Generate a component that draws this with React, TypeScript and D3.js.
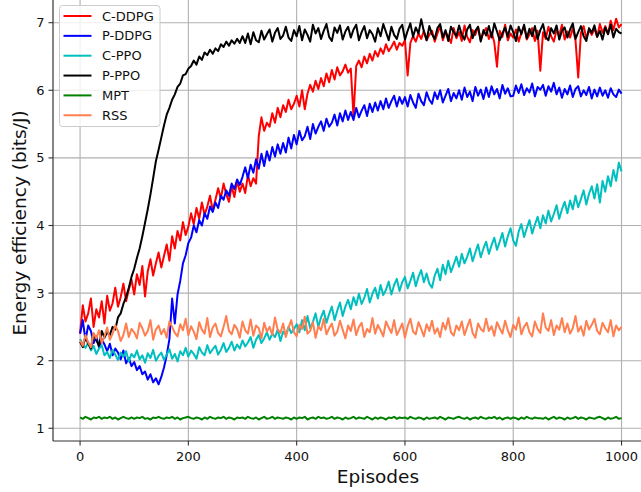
import React from "react";
import * as d3 from "d3";

// Episodes are logged every EPISODE_STEP episodes, from 0 to 1000.
const EPISODE_STEP = 5;

const xTicks = [0, 200, 400, 600, 800, 1000];
const yTicks = [1, 2, 3, 4, 5, 6, 7];

const seriesNames = ["C-DDPG", "P-DDPG", "C-PPO", "P-PPO", "MPT", "RSS"];
const seriesColors = ["#ff0000", "#0000ff", "#00bfbf", "#000000", "#008000", "#ff7f50"];

// Energy efficiency (bits/J) per logged episode
const cDdpg = [
  2.40, 2.82, 2.58, 2.70, 2.92, 2.50, 2.76, 2.64, 2.88, 2.55,
  2.96, 2.74, 2.85, 3.08, 2.80, 2.94, 3.14, 2.88, 3.05, 3.20,
  2.98, 3.28, 3.12, 3.40, 2.95, 3.32, 3.50, 3.26, 3.44, 3.60,
  3.38, 3.55, 3.72, 3.48, 3.84, 3.66, 3.92, 3.78, 4.05, 3.86,
  3.98, 4.18, 4.02, 4.26, 4.10, 4.34, 4.16, 4.28, 4.44, 4.22,
  4.38, 4.55, 4.40, 4.62, 4.46, 4.35, 4.58, 4.42, 4.66, 4.50,
  4.62, 4.48, 4.75, 4.58, 4.70, 4.62, 5.32, 5.60, 5.40, 5.52,
  5.46, 5.66, 5.52, 5.74, 5.60, 5.78, 5.68, 5.86, 5.72, 5.80,
  5.92, 5.76, 6.00, 5.72, 5.95, 6.08, 5.98, 6.14, 6.02, 6.18,
  6.06, 6.25, 6.12, 6.30, 6.16, 6.34, 6.22, 6.28, 6.38, 6.26,
  6.32, 5.62, 6.36, 6.44, 6.34, 6.50, 6.40, 6.54, 6.44, 6.58,
  6.50, 6.62, 6.54, 6.68, 6.58, 6.64, 6.72, 6.60, 6.70, 6.66,
  6.74, 6.22, 6.70, 6.80, 6.72, 6.84, 6.76, 6.88, 6.74, 6.82,
  6.88, 6.72, 6.84, 6.95, 6.74, 6.86, 6.80, 6.70, 6.92, 6.77,
  6.86, 6.73, 6.96, 6.79, 6.71, 6.89, 6.82, 6.94, 6.74, 6.85,
  6.92, 6.76, 6.86, 6.71, 6.35, 6.88, 6.79, 6.97, 6.74, 6.84,
  6.78, 6.90, 6.72, 6.85, 6.95, 6.75, 6.83, 6.92, 6.73, 6.88,
  6.29, 6.86, 6.76, 6.94, 6.80, 6.72, 6.89, 6.81, 6.97, 6.75,
  6.87, 6.78, 6.92, 6.74, 6.19, 6.85, 6.95, 6.77, 6.89, 6.82,
  6.91, 6.79, 6.98, 6.85, 6.95, 6.83, 7.03, 6.89, 7.06, 6.93,
  6.98,
];

const pDdpg = [
  2.40, 2.60, 2.30, 2.52, 2.44, 2.26, 2.36, 2.20, 2.32, 2.24,
  2.14, 2.25, 2.08, 2.18, 2.12, 2.02, 2.15, 1.96, 2.04, 1.92,
  1.98, 1.86, 1.92, 1.80, 1.84, 1.72, 1.80, 1.68, 1.74, 1.65,
  1.76, 1.90, 2.08, 2.32, 2.92, 2.55, 2.98, 3.18, 3.44, 3.56,
  3.74, 3.82, 4.00, 3.90, 4.08, 4.00, 4.18, 4.10, 4.28, 4.20,
  4.34, 4.26, 4.44, 4.38, 4.52, 4.44, 4.62, 4.54, 4.68, 4.60,
  4.72, 4.86, 4.70, 4.90, 4.78, 4.98, 4.84, 5.06, 4.88, 5.10,
  4.96, 5.16, 5.02, 5.20, 5.06, 5.22, 5.08, 5.30, 5.14, 5.34,
  5.20, 5.40, 5.26, 5.32, 5.46, 5.28, 5.50, 5.36, 5.46, 5.54,
  5.40, 5.58, 5.46, 5.52, 5.64, 5.48, 5.66, 5.54, 5.70, 5.56,
  5.68, 5.56, 5.74, 5.60, 5.70, 5.78, 5.62, 5.80, 5.68, 5.82,
  5.70, 5.84, 5.72, 5.88, 5.74, 5.84, 5.92, 5.76, 5.90, 5.80,
  5.90, 5.76, 5.93, 5.82, 5.74, 5.95, 5.84, 5.78, 5.97, 5.86,
  5.80, 5.97, 5.87, 6.00, 5.82, 5.92, 6.02, 5.84, 5.96, 5.88,
  6.00, 5.86, 6.04, 5.90, 5.98, 5.84, 6.05, 5.92, 6.01, 5.87,
  6.04, 5.90, 6.06, 5.94, 6.02, 5.88, 6.08, 5.95, 6.03, 5.91,
  5.92, 6.07, 5.96, 6.09, 5.93, 6.03, 5.97, 6.10, 5.91, 6.05,
  6.01, 6.08, 5.92, 6.06, 5.98, 6.11, 5.94, 6.04, 5.89, 6.02,
  5.94, 6.07, 5.90, 6.02, 6.06, 5.91, 6.00, 5.93, 6.05, 5.88,
  6.01, 5.91, 6.04, 5.92, 6.00, 5.89, 6.03, 5.94, 5.90, 6.01,
  5.95,
];

const cPpo = [
  2.32, 2.24, 2.19, 2.27, 2.15, 2.22, 2.10, 2.18, 2.23, 2.08,
  2.13, 2.04, 2.16, 2.09, 2.01, 2.12, 2.06, 2.14, 1.99, 2.10,
  2.05, 2.15, 2.02, 2.08, 1.97, 2.11, 2.04, 2.16, 2.00, 2.07,
  2.12, 2.01, 2.09, 2.17, 2.03, 2.10, 1.99, 2.14, 2.08, 2.19,
  2.06, 2.15, 2.10, 2.03, 2.20, 2.12, 2.08, 2.23, 2.11, 2.17,
  2.22, 2.09, 2.16, 2.26, 2.13, 2.19, 2.28, 2.15, 2.24, 2.18,
  2.30, 2.21, 2.27, 2.35, 2.19, 2.31, 2.38, 2.26, 2.33, 2.42,
  2.31, 2.40, 2.35, 2.46, 2.29, 2.43, 2.38, 2.50, 2.41, 2.47,
  2.54, 2.42, 2.60, 2.45, 2.66, 2.48, 2.57, 2.70, 2.50, 2.64,
  2.74, 2.56, 2.69, 2.80, 2.60, 2.74, 2.86, 2.66, 2.80, 2.90,
  2.76, 2.94, 2.82, 2.99, 2.84, 2.93, 3.06, 2.86, 2.99, 3.08,
  2.92, 3.12, 2.97, 3.05, 3.17, 2.98, 3.12, 3.21, 3.03, 3.16,
  3.24, 3.07, 3.18, 3.30, 3.10, 3.24, 3.34, 3.16, 3.29, 3.14,
  3.08, 3.26, 3.36, 3.19, 3.42, 3.28, 3.48, 3.31, 3.42, 3.54,
  3.39, 3.58, 3.44, 3.54, 3.66, 3.47, 3.60, 3.72, 3.53, 3.66,
  3.76, 3.58, 3.71, 3.82, 3.64, 3.76, 3.89, 3.69, 3.84, 3.96,
  3.78, 3.70, 3.91, 4.02, 3.83, 3.96, 4.08, 3.88, 4.01, 4.13,
  3.96, 4.15, 4.03, 4.22, 4.06, 4.17, 4.30, 4.10, 4.24, 4.35,
  4.18, 4.37, 4.24, 4.44, 4.27, 4.39, 4.52, 4.31, 4.47, 4.58,
  4.40, 4.61, 4.34, 4.66, 4.50, 4.73, 4.58, 4.82, 4.66, 4.93,
  4.80,
];

const pPpo = [
  2.28, 2.20, 2.36, 2.25, 2.18, 2.40, 2.30, 2.22, 2.44, 2.34,
  2.42, 2.38, 2.50, 2.46, 2.64, 2.70, 2.84, 2.94, 3.08, 3.24,
  3.36, 3.52, 3.66, 3.84, 4.04, 4.24, 4.46, 4.70, 4.95, 5.12,
  5.30, 5.48, 5.64, 5.74, 5.86, 5.94, 6.05, 6.10, 6.22, 6.24,
  6.32, 6.36, 6.44, 6.38, 6.50, 6.45, 6.56, 6.52, 6.60, 6.54,
  6.62, 6.58, 6.68, 6.64, 6.72, 6.66, 6.74, 6.69, 6.76, 6.70,
  6.80, 6.70, 6.84, 6.68, 6.86, 6.74, 6.71, 6.88, 6.75, 6.83,
  6.90, 6.72, 6.85, 6.92, 6.76, 6.81, 6.94, 6.78, 6.73, 6.89,
  6.80, 6.95, 6.74, 6.90, 6.82, 6.72, 6.97, 6.84, 6.92, 6.76,
  6.88, 6.98, 6.79, 6.73, 6.93, 6.85, 6.96, 6.75, 6.87, 6.94,
  6.78, 6.90, 6.97, 6.74, 6.86, 6.95, 6.77, 6.89, 6.83, 6.72,
  6.92, 6.80, 6.98, 6.86, 6.74, 6.94, 6.82, 6.76, 6.91, 6.97,
  6.75, 6.88, 6.99, 6.79, 6.93, 6.84, 7.05, 6.87, 6.74, 6.95,
  6.83, 6.76, 6.92, 6.98, 6.78, 6.89, 6.73, 6.94, 6.86, 6.80,
  6.96, 6.82, 6.75, 6.90, 6.97, 6.77, 6.88, 6.94, 6.72, 6.89,
  6.81, 6.95, 6.78, 6.99, 6.87, 6.74, 6.84, 6.93, 6.79, 6.96,
  6.86, 6.73, 6.94, 6.83, 6.97, 6.77, 6.91, 6.80, 6.95, 6.76,
  6.89, 6.98, 6.79, 6.74, 6.92, 6.84, 6.96, 6.75, 6.88, 6.93,
  6.78, 6.90, 6.99, 6.76, 6.86, 6.95, 6.80, 6.73, 6.92, 6.85,
  6.96, 6.79, 6.88, 6.75, 6.93, 6.83, 6.97, 6.78, 6.91, 6.86,
  6.84,
];

const mpt = [
  1.16, 1.14, 1.17, 1.15, 1.13, 1.16, 1.15, 1.17, 1.14, 1.16,
  1.15, 1.17, 1.14, 1.16, 1.13, 1.15, 1.17, 1.15, 1.14, 1.16,
  1.14, 1.16, 1.15, 1.17, 1.14, 1.15, 1.13, 1.16, 1.15, 1.17,
  1.15, 1.14, 1.16, 1.15, 1.17, 1.14, 1.16, 1.13, 1.15, 1.16,
  1.17, 1.15, 1.14, 1.16, 1.15, 1.13, 1.16, 1.14, 1.17, 1.15,
  1.14, 1.16, 1.15, 1.17, 1.14, 1.16, 1.15, 1.13, 1.16, 1.15,
  1.16, 1.14, 1.17, 1.15, 1.14, 1.16, 1.13, 1.15, 1.17, 1.14,
  1.15, 1.17, 1.14, 1.16, 1.15, 1.14, 1.16, 1.15, 1.13, 1.16,
  1.14, 1.16, 1.15, 1.17, 1.13, 1.15, 1.16, 1.14, 1.17, 1.15,
  1.16, 1.14, 1.15, 1.17, 1.14, 1.16, 1.15, 1.13, 1.16, 1.14,
  1.15, 1.17, 1.14, 1.16, 1.15, 1.14, 1.17, 1.15, 1.13, 1.16,
  1.14, 1.16, 1.15, 1.13, 1.16, 1.15, 1.17, 1.14, 1.16, 1.15,
  1.16, 1.14, 1.17, 1.15, 1.14, 1.16, 1.15, 1.13, 1.16, 1.14,
  1.15, 1.16, 1.14, 1.17, 1.15, 1.13, 1.16, 1.15, 1.14, 1.16,
  1.17, 1.15, 1.14, 1.16, 1.13, 1.15, 1.16, 1.14, 1.17, 1.15,
  1.14, 1.16, 1.15, 1.17, 1.14, 1.16, 1.13, 1.15, 1.16, 1.14,
  1.16, 1.15, 1.13, 1.16, 1.14, 1.17, 1.15, 1.14, 1.16, 1.15,
  1.15, 1.14, 1.16, 1.13, 1.15, 1.17, 1.14, 1.16, 1.15, 1.13,
  1.16, 1.14, 1.15, 1.17, 1.14, 1.16, 1.15, 1.13, 1.16, 1.15,
  1.14, 1.16, 1.17, 1.15, 1.13, 1.16, 1.14, 1.15, 1.17, 1.14,
  1.15,
];

const rss = [
  2.30, 2.22, 2.38, 2.27, 2.20, 2.41, 2.33, 2.45, 2.26, 2.36,
  2.49, 2.31, 2.40, 2.52, 2.44, 2.29, 2.38, 2.55, 2.35, 2.47,
  2.42, 2.33, 2.56, 2.48, 2.37, 2.44, 2.60, 2.31, 2.46, 2.52,
  2.39, 2.47, 2.34, 2.58, 2.50, 2.41, 2.36, 2.54, 2.45, 2.62,
  2.38, 2.51, 2.43, 2.32, 2.57, 2.46, 2.40, 2.63, 2.35, 2.49,
  2.55, 2.41, 2.36, 2.50, 2.66, 2.44, 2.39, 2.53, 2.47, 2.34,
  2.58, 2.45, 2.40, 2.61, 2.37, 2.52, 2.48, 2.33, 2.56, 2.43,
  2.50, 2.38, 2.64, 2.46, 2.41, 2.55, 2.35, 2.49, 2.60, 2.42,
  2.36, 2.53, 2.47, 2.65, 2.40, 2.44, 2.57, 2.34, 2.51, 2.45,
  2.62, 2.39, 2.48, 2.55, 2.37, 2.43, 2.59, 2.46, 2.33, 2.52,
  2.44, 2.61, 2.38, 2.50, 2.56, 2.35, 2.47, 2.42, 2.63, 2.40,
  2.53, 2.45, 2.36, 2.58, 2.49, 2.41, 2.60, 2.38, 2.46, 2.55,
  2.34, 2.51, 2.62, 2.43, 2.39, 2.57, 2.47, 2.36, 2.54, 2.44,
  2.59, 2.40, 2.48, 2.35, 2.56, 2.46, 2.63, 2.42, 2.37, 2.52,
  2.45, 2.58, 2.38, 2.50, 2.61, 2.41, 2.34, 2.55, 2.47, 2.43,
  2.62, 2.44, 2.51, 2.37, 2.57, 2.48, 2.40, 2.59, 2.45, 2.35,
  2.53, 2.46, 2.64, 2.39, 2.50, 2.56, 2.42, 2.36, 2.58, 2.47,
  2.41, 2.70, 2.49, 2.44, 2.60, 2.38, 2.52, 2.46, 2.63, 2.42,
  2.55, 2.40, 2.48, 2.66, 2.43, 2.51, 2.37, 2.59, 2.46, 2.53,
  2.62, 2.44, 2.39, 2.56, 2.48, 2.42, 2.60, 2.36, 2.52, 2.45,
  2.50,
];

const seriesValues = [cDdpg, pDdpg, cPpo, pPpo, mpt, rss];

const FONT = "'DejaVu Sans', sans-serif";

export default function App() {
  const width = 641;
  const height = 492;

  const plotLeft = 53;
  const plotBottom = 441;
  const plotRight = 648.6;
  const plotTop = -0.96;

  const x = d3.scaleLinear().domain([-50, 1050]).range([plotLeft, plotRight]);
  const y = d3.scaleLinear().domain([0.812, 7.35]).range([plotBottom, plotTop]);

  const line = d3
    .line<number>()
    .x((_, i) => x(i * EPISODE_STEP))
    .y((d) => y(d));

  const legendX = 59.5;
  const legendY = 5.5;
  const legendRow = 19.85;

  return (
    <svg
      width={width}
      height={height}
      style={{ position: "absolute", left: 0, top: 0, background: "#fff" }}
      fontFamily={FONT}
    >
      <defs>
        <clipPath id="plot-area">
          <rect x={plotLeft} y={plotTop} width={plotRight - plotLeft} height={plotBottom - plotTop} />
        </clipPath>
      </defs>

      {/* grid */}
      <g stroke="#b0b0b0" strokeWidth={1.1}>
        {xTicks.map((t) => (
          <line key={`gx${t}`} x1={x(t)} x2={x(t)} y1={plotTop} y2={plotBottom} />
        ))}
        {yTicks.map((t) => (
          <line key={`gy${t}`} x1={plotLeft} x2={plotRight} y1={y(t)} y2={y(t)} />
        ))}
      </g>

      {/* series */}
      <g clipPath="url(#plot-area)" fill="none" strokeWidth={2} strokeLinejoin="round">
        {seriesValues.map((vals, k) => (
          <path key={seriesNames[k]} d={line(vals) ?? ""} stroke={seriesColors[k]} />
        ))}
      </g>

      {/* spines */}
      <g stroke="#333" strokeWidth={1.2}>
        <line x1={plotLeft} x2={plotLeft} y1={plotTop} y2={plotBottom} />
        <line x1={plotLeft} x2={plotRight} y1={plotBottom} y2={plotBottom} />
      </g>

      {/* x axis ticks */}
      <g>
        {xTicks.map((t) => (
          <g key={`xt${t}`}>
            <line x1={x(t)} x2={x(t)} y1={plotBottom} y2={plotBottom + 4.5} stroke="#333" strokeWidth={1.1} />
            <text x={x(t)} y={460.5} textAnchor="middle" fontSize={13} fill="#111">
              {t}
            </text>
          </g>
        ))}
      </g>

      {/* y axis ticks */}
      <g>
        {yTicks.map((t) => (
          <g key={`yt${t}`}>
            <line x1={plotLeft - 4.5} x2={plotLeft} y1={y(t)} y2={y(t)} stroke="#333" strokeWidth={1.1} />
            <text x={44.5} y={y(t)} textAnchor="end" dominantBaseline="central" fontSize={13} fill="#111">
              {t}
            </text>
          </g>
        ))}
      </g>

      {/* axis labels */}
      <text x={378} y={482.5} textAnchor="middle" fontSize={18.5} fill="#111">
        Episodes
      </text>
      <text transform="translate(26,223) rotate(-90)" textAnchor="middle" fontSize={18.5} fill="#111">
        Energy efficiency (bits/J)
      </text>

      {/* legend */}
      <g>
        <rect
          x={legendX}
          y={legendY}
          width={100.5}
          height={121}
          rx={3}
          fill="#fff"
          fillOpacity={0.8}
          stroke="#cccccc"
          strokeWidth={1}
        />
        {seriesNames.map((name, k) => {
          const cy = 16 + k * legendRow;
          return (
            <g key={`lg${name}`}>
              <line x1={63.5} x2={91.5} y1={cy} y2={cy} stroke={seriesColors[k]} strokeWidth={2} />
              <text x={102} y={cy} dominantBaseline="central" fontSize={13} fill="#111">
                {name}
              </text>
            </g>
          );
        })}
      </g>
    </svg>
  );
}
